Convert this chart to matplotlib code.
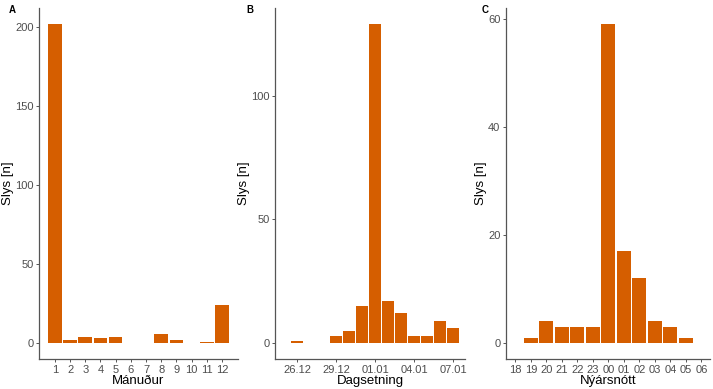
import matplotlib
matplotlib.use("Agg")
import matplotlib.pyplot as plt

plt.rcParams['font.family'] = ['Liberation Sans', 'DejaVu Sans']

# Panel A: by month
months = [str(m) for m in range(1, 13)]
month_counts = [202, 2, 4, 3, 4, 0, 0, 6, 2, 0, 1, 24]

# Panel B: by date around new year
dates = ['26.12', '27.12', '28.12', '29.12', '30.12', '31.12', '01.01',
         '02.01', '03.01', '04.01', '05.01', '06.01', '07.01']
date_counts = [1, 0, 0, 3, 5, 15, 129, 17, 12, 3, 3, 9, 6]
date_ticks = ['26.12', '29.12', '01.01', '04.01', '07.01']

# Panel C: hour of new year's night
hours = ['18', '19', '20', '21', '22', '23', '00', '01', '02', '03', '04', '05', '06']
hour_counts = [0, 1, 4, 3, 3, 3, 59, 17, 12, 4, 3, 1, 0]

bar_color = '#D55E00'
axis_color = '#555555'
tick_text = '#4D4D4D'

fig = plt.figure(figsize=(7.13, 3.89), dpi=100)
bottom, height = 0.077, 0.902
ax_a = fig.add_axes([0.0547, bottom, 0.279, height])
ax_b = fig.add_axes([0.3857, bottom, 0.2665, height])
ax_c = fig.add_axes([0.7097, bottom, 0.286, height])


def style(ax, xlabel):
    for s in ['top', 'right']:
        ax.spines[s].set_visible(False)
    for s in ['left', 'bottom']:
        ax.spines[s].set_color(axis_color)
        ax.spines[s].set_linewidth(0.9)
    ax.tick_params(colors=axis_color, labelcolor=tick_text, labelsize=8,
                   length=2.5, width=0.7, pad=1.5)
    ax.set_xlabel(xlabel, fontsize=9.5, labelpad=0)
    ax.set_ylabel('Slys [n]', fontsize=9.5, labelpad=1)


def draw(ax, labels, counts):
    pos = [i for i, c in enumerate(counts) if c > 0]
    vals = [c for c in counts if c > 0]
    ax.bar(pos, vals, width=0.9, color=bar_color, edgecolor='none')
    top = max(counts)
    ax.set_ylim(-0.05 * top, 1.05 * top)


# A
draw(ax_a, months, month_counts)
ax_a.set_xticks(range(len(months)))
ax_a.set_xticklabels(months)
ax_a.set_xlim(-1.045, 12.05)
ax_a.set_yticks([0, 50, 100, 150, 200])
style(ax_a, 'Mánuður')

# B
draw(ax_b, dates, date_counts)
ax_b.set_xticks([dates.index(d) for d in date_ticks])
ax_b.set_xticklabels(date_ticks)
ax_b.set_xlim(-1.69, 12.9)
ax_b.set_yticks([0, 50, 100])
style(ax_b, 'Dagsetning')

# C
draw(ax_c, hours, hour_counts)
ax_c.set_xticks(range(len(hours)))
ax_c.set_xticklabels(hours)
ax_c.set_xlim(-0.6, 12.55)
ax_c.set_yticks([0, 20, 40, 60])
style(ax_c, 'Nýársnótt')

for x, lab in [(0.012, 'A'), (0.345, 'B'), (0.675, 'C')]:
    fig.text(x, 0.988, lab, fontsize=7, fontweight='bold', va='top')

fig.savefig('out.png', dpi=100)
